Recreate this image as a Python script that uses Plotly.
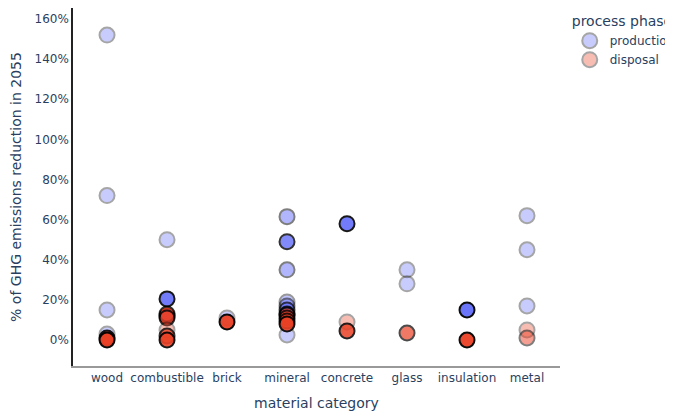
import plotly.graph_objects as go

categories = ["wood", "combustible", "brick", "mineral", "concrete", "glass", "insulation", "metal"]

# production phase points
prod_cat = ["wood", "wood", "wood", "wood",
            "combustible", "combustible", "combustible",
            "brick",
            "mineral", "mineral", "mineral", "mineral", "mineral", "mineral", "mineral", "mineral",
            "concrete",
            "glass", "glass",
            "insulation",
            "metal", "metal", "metal"]
prod_val = [1.52, 0.72, 0.15, 0.03,
            0.50, 0.205, 0.12,
            0.11,
            0.615, 0.49, 0.35, 0.19, 0.17, 0.15, 0.13, 0.025,
            0.58,
            0.35, 0.28,
            0.15,
            0.62, 0.45, 0.17]
prod_weight = [0.35, 0.35, 0.35, 0.35,
               0.35, 0.9, 0.9,
               0.35,
               0.5, 0.8, 0.5, 0.4, 0.5, 0.7, 0.8, 0.35,
               0.9,
               0.35, 0.35,
               0.95,
               0.35, 0.35, 0.35]

# disposal phase points
disp_cat = ["wood", "wood",
            "combustible", "combustible", "combustible", "combustible", "combustible",
            "brick",
            "mineral", "mineral", "mineral", "mineral",
            "concrete", "concrete",
            "glass",
            "insulation",
            "metal", "metal"]
disp_val = [0.01, 0.0,
            0.13, 0.11, 0.05, 0.02, 0.0,
            0.09,
            0.125, 0.11, 0.095, 0.08,
            0.09, 0.045,
            0.035,
            0.0,
            0.05, 0.01]
disp_weight = [0.9, 0.95,
               0.8, 0.8, 0.35, 0.8, 0.9,
               0.95,
               0.8, 0.8, 0.8, 0.9,
               0.35, 0.85,
               0.7,
               0.95,
               0.35, 0.5]

phases = ["production", "disposal"]
phase_colors = {"production": "#636efa", "disposal": "#EA4125"}

fig = go.Figure()
for name, cats, vals, w in [("production", prod_cat, prod_val, prod_weight),
                            ("disposal", disp_cat, disp_val, disp_weight)]:
    fig.add_trace(go.Scatter(
        x=cats, y=vals, mode="markers", name=name, showlegend=False,
        marker=dict(size=15, color=phase_colors[name], opacity=w,
                    line=dict(color="black", width=2)),
    ))
for name in phases:
    fig.add_trace(go.Scatter(
        x=[None], y=[None], mode="markers", name=name,
        marker=dict(size=15, color=phase_colors[name], opacity=0.35,
                    line=dict(color="black", width=2)),
    ))

fig.update_layout(
    width=673, height=412,
    template="plotly_white",
    font=dict(family="DejaVu Sans", size=12, color="#2a3f5f"),
    margin=dict(l=65, r=121, t=0, b=54, autoexpand=False),
    legend=dict(title=dict(text="process phase", font=dict(size=14)),
                font=dict(size=12), x=1.02, y=1, tracegroupgap=0),
    xaxis=dict(title=dict(text="material category", font=dict(size=14), standoff=14),
               categoryorder="array", categoryarray=categories, automargin=False,
               range=[-0.567, 7.55], showgrid=False, showline=True,
               linecolor="#999999", linewidth=1.5, ticks="", zeroline=False),
    yaxis=dict(title=dict(text="% of GHG emissions reduction in 2055", font=dict(size=14)),
               tickformat=".0%", range=[-0.1296, 1.655], dtick=0.2, automargin=False,
               showgrid=False, showline=True, linecolor="#222222", linewidth=1.5,
               zeroline=False, ticks=""),
    plot_bgcolor="white", paper_bgcolor="white",
)

fig.write_html("out.html")
